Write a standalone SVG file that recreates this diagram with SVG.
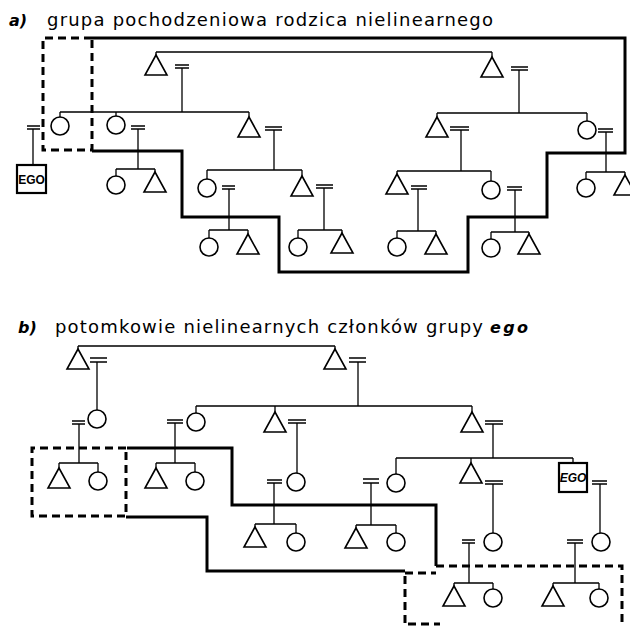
<svg xmlns="http://www.w3.org/2000/svg" width="630" height="626" viewBox="0 0 630 626">
<style>
.ln{fill:none;stroke:#000;stroke-width:1.3}
.eq{fill:none;stroke:#000;stroke-width:1.6}
.sh{fill:#fff;stroke:#000;stroke-width:1.6}
.bx{fill:#fff;stroke:#000;stroke-width:2.2}
.b{fill:none;stroke:#000;stroke-width:3}
.d{fill:none;stroke:#000;stroke-width:3;stroke-dasharray:8,5}
.t{font-family:"DejaVu Sans",sans-serif;font-size:18px;fill:#000}
.bi{font-family:"DejaVu Sans",sans-serif;font-size:16px;font-weight:bold;font-style:italic;fill:#000}
.ego{font-family:"Liberation Sans",sans-serif;font-size:12px;font-weight:bold;fill:#000}
</style>
<defs>
<path id="tri" d="M0,0 L-11,20 L11,20 Z" class="sh"/>
<circle id="cir" r="9" class="sh"/>
</defs>
<g id="titles">
<text class="bi" x="9" y="26">a)</text>
<text class="t" x="47" y="26" textLength="446" lengthAdjust="spacing">grupa pochodzeniowa rodzica nielinearnego</text>
<text class="bi" x="18" y="333">b)</text>
<text class="t" x="55" y="333" textLength="428" lengthAdjust="spacing">potomkowie nielinearnych członków grupy</text>
<text class="bi" x="490" y="333" font-size="17" textLength="38" lengthAdjust="spacing">ego</text>
</g>
<g id="boundaries">
<path class="b" d="M92,38 H625 V153 H547 V217 H468 V272 H279 V217 H182 V151 H92"/>
<path class="d" d="M92,38 H43 V150 H92"/>
<path class="d" d="M92,40 V150"/>
<path class="b" d="M127,448 H232 V505 H436 V566"/>
<path class="b" d="M126,517 H207 V571 H405"/>
<path class="d" d="M126,448 H32 V516 H126"/>
<path class="d" d="M126,452 V512"/>
<path class="d" d="M405,573 H436"/>
<path class="d" d="M436,566 H622 V626"/>
<path class="d" d="M405,576 V626"/>
<path class="d" d="M408,624 H440"/>
</g>
<g id="connectors">
<path class="ln" d="M156,52 H492 M156,52 V55 M492,52 V57"/>
<path class="eq" d="M175,65 H189 M175,68 H189"/><path class="ln" d="M182,68 V112"/>
<path class="eq" d="M511,67 H528 M511,70 H528"/><path class="ln" d="M519,70 V113"/>
<path class="ln" d="M60,112 H249 M60,112 V117 M116,112 V116 M249,112 V117"/>
<path class="eq" d="M27,126 H40 M27,129 H40"/><path class="ln" d="M33,129 V165"/>
<path class="eq" d="M131,126 H145 M131,129 H145"/><path class="ln" d="M138,129 V169 M116,169 H155 M116,169 V176 M155,169 V172"/>
<path class="eq" d="M265,127 H282 M265,130 H282"/><path class="ln" d="M274,130 V170 M207,170 H302 M207,170 V179 M302,170 V176"/>
<path class="eq" d="M222,186 H235 M222,189 H235"/><path class="ln" d="M229,189 V230 M209,230 H248 M209,230 V238 M248,230 V234"/>
<path class="eq" d="M316,185 H333 M316,188 H333"/><path class="ln" d="M324,188 V230 M298,230 H342 M298,230 V238 M342,230 V233"/>
<path class="ln" d="M437,113 H587 M437,113 V117 M587,113 V121"/>
<path class="eq" d="M450,127 H469 M450,130 H469"/><path class="ln" d="M461,130 V171 M397,171 H491 M397,171 V174 M491,171 V181"/>
<path class="eq" d="M411,186 H427 M411,189 H427"/><path class="ln" d="M418,189 V231 M397,231 H436 M397,231 V238 M436,231 V234"/>
<path class="eq" d="M507,187 H522 M507,190 H522"/><path class="ln" d="M515,190 V232 M491,232 H529 M491,232 V239 M529,232 V234"/>
<path class="eq" d="M598,129 H613 M598,132 H613"/><path class="ln" d="M606,132 V172 M586,172 H625 M586,172 V179 M625,172 V175"/>
<path class="ln" d="M78,346 H335 M78,346 V349 M335,346 V349"/>
<path class="eq" d="M90,358 H107 M90,362 H107"/><path class="ln" d="M97,362 V410"/>
<path class="eq" d="M349,358 H366 M349,362 H366"/><path class="ln" d="M358,362 V406"/>
<path class="eq" d="M72,421 H85 M72,424 H85"/><path class="ln" d="M79,424 V463 M59,463 H98 M59,463 V468 M98,463 V472"/>
<path class="ln" d="M196,406 H472 M196,406 V413 M275,406 V412 M472,406 V412"/>
<path class="eq" d="M167,420 H183 M167,423 H183"/><path class="ln" d="M175,423 V463 M156,463 H195 M156,463 V468 M195,463 V472"/>
<path class="eq" d="M288,420 H306 M288,423 H306"/><path class="ln" d="M297,423 V473"/>
<path class="eq" d="M267,480 H282 M267,483 H282"/><path class="ln" d="M274,483 V524 M255,524 H296 M255,524 V527 M296,524 V533"/>
<path class="eq" d="M485,421 H503 M485,424 H503"/><path class="ln" d="M493,424 V458 M396,458 H573 M396,458 V474 M471,458 V463 M573,458 V463"/>
<path class="eq" d="M363,479 H379 M363,483 H379"/><path class="ln" d="M371,483 V525 M356,525 H396 M356,525 V528 M396,525 V533"/>
<path class="eq" d="M485,481 H503 M485,484 H503"/><path class="ln" d="M493,484 V533"/>
<path class="eq" d="M462,540 H475 M462,543 H475"/><path class="ln" d="M469,543 V583 M454,583 H493 M454,583 V586 M493,583 V589"/>
<path class="eq" d="M592,481 H607 M592,484 H607"/><path class="ln" d="M600,484 V533"/>
<path class="eq" d="M567,540 H583 M567,543 H583"/><path class="ln" d="M575,543 V583 M553,583 H599 M553,583 V586 M599,583 V589"/>
</g>
<g id="a_t1"><use href="#tri" x="156" y="55"/></g>
<g id="a_t2"><use href="#tri" x="492" y="57"/></g>
<g id="a_c1"><use href="#cir" x="60" y="126"/></g>
<g id="a_c2"><use href="#cir" x="116" y="125"/></g>
<g id="a_t3"><use href="#tri" x="249" y="117"/></g>
<g id="a_ego"><rect class="bx" x="17" y="165" width="29" height="28"/><text class="ego" x="31.5" y="183.5" text-anchor="middle">EGO</text></g>
<g id="a_c4"><use href="#cir" x="116" y="185"/></g>
<g id="a_t4"><use href="#tri" x="155" y="172"/></g>
<g id="a_c5"><use href="#cir" x="207" y="188"/></g>
<g id="a_t5"><use href="#tri" x="302" y="176"/></g>
<g id="a_c6"><use href="#cir" x="209" y="247"/></g>
<g id="a_t6"><use href="#tri" x="248" y="234"/></g>
<g id="a_c7"><use href="#cir" x="298" y="247"/></g>
<g id="a_t7"><use href="#tri" x="342" y="233"/></g>
<g id="a_t8"><use href="#tri" x="437" y="117"/></g>
<g id="a_c8"><use href="#cir" x="587" y="130"/></g>
<g id="a_t9"><use href="#tri" x="397" y="174"/></g>
<g id="a_c9"><use href="#cir" x="491" y="190"/></g>
<g id="a_c10"><use href="#cir" x="397" y="247"/></g>
<g id="a_t10"><use href="#tri" x="436" y="234"/></g>
<g id="a_c11"><use href="#cir" x="491" y="248"/></g>
<g id="a_t11"><use href="#tri" x="529" y="234"/></g>
<g id="a_c12"><use href="#cir" x="586" y="188"/></g>
<g id="a_t12"><use href="#tri" x="625" y="175"/></g>
<g id="b_t1"><use href="#tri" x="78" y="349"/></g>
<g id="b_t2"><use href="#tri" x="335" y="349"/></g>
<g id="b_c1"><use href="#cir" x="97" y="419"/></g>
<g id="b_t3"><use href="#tri" x="59" y="468"/></g>
<g id="b_c2"><use href="#cir" x="98" y="481"/></g>
<g id="b_c3"><use href="#cir" x="196" y="422"/></g>
<g id="b_t4"><use href="#tri" x="275" y="412"/></g>
<g id="b_t5"><use href="#tri" x="472" y="412"/></g>
<g id="b_t6"><use href="#tri" x="156" y="468"/></g>
<g id="b_c4"><use href="#cir" x="195" y="481"/></g>
<g id="b_c5"><use href="#cir" x="296" y="482"/></g>
<g id="b_t7"><use href="#tri" x="255" y="527"/></g>
<g id="b_c6"><use href="#cir" x="296" y="542"/></g>
<g id="b_c7"><use href="#cir" x="396" y="483"/></g>
<g id="b_t8"><use href="#tri" x="471" y="463"/></g>
<g id="b_ego"><rect class="bx" x="559" y="463" width="28" height="29"/><text class="ego" x="573" y="482" text-anchor="middle" font-style="italic" font-weight="normal">EGO</text></g>
<g id="b_t9"><use href="#tri" x="356" y="528"/></g>
<g id="b_c8"><use href="#cir" x="396" y="542"/></g>
<g id="b_c9"><use href="#cir" x="493" y="542"/></g>
<g id="b_t10"><use href="#tri" x="454" y="586"/></g>
<g id="b_c10"><use href="#cir" x="493" y="598"/></g>
<g id="b_c11"><use href="#cir" x="601" y="542"/></g>
<g id="b_t11"><use href="#tri" x="553" y="586"/></g>
<g id="b_c12"><use href="#cir" x="599" y="598"/></g>
</svg>
